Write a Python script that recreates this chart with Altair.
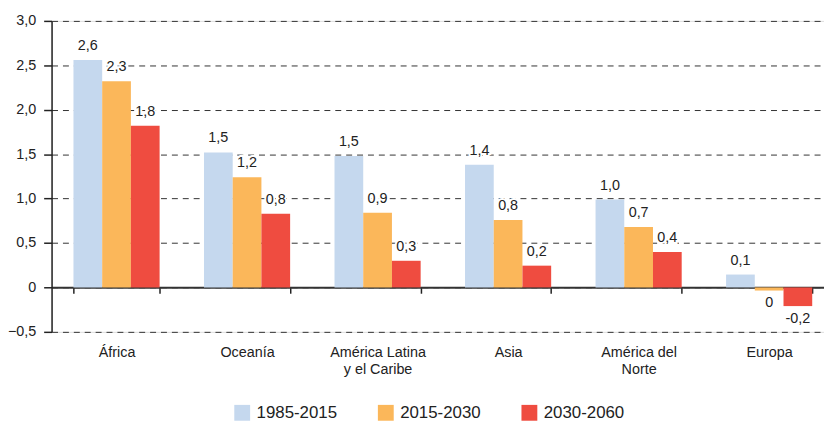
import altair as alt
import pandas as pd

regions = ["África", "Oceanía", "América Latina|y el Caribe", "Asia", "América del|Norte", "Europa"]
periods = ["1985-2015", "2015-2030", "2030-2060"]
colors = ["#c5d8ee", "#fbb75a", "#ef4c40"]

v_1985_2015 = [2.56, 1.52, 1.48, 1.38, 0.99, 0.145]
v_2015_2030 = [2.32, 1.24, 0.84, 0.76, 0.68, -0.035]
v_2030_2060 = [1.82, 0.83, 0.30, 0.245, 0.40, -0.21]

l_1985_2015 = ["2,6", "1,5", "1,5", "1,4", "1,0", "0,1"]
l_2015_2030 = ["2,3", "1,2", "0,9", "0,8", "0,7", "0"]
l_2030_2060 = ["1,8", "0,8", "0,3", "0,2", "0,4", "-0,2"]

y_ticks = [-0.5, 0, 0.5, 1.0, 1.5, 2.0, 2.5, 3.0]

rows = []
for i, r in enumerate(regions):
    for p, vals, labs in zip(periods, [v_1985_2015, v_2015_2030, v_2030_2060],
                             [l_1985_2015, l_2015_2030, l_2030_2060]):
        rows.append({"region": r, "period": p, "value": vals[i], "label": labs[i]})
df = pd.DataFrame(rows)

FONT = "Liberation Sans"
TXT = "#222222"

x = alt.X(
    "region:N", sort=regions, title=None,
    scale=alt.Scale(paddingInner=0.34, paddingOuter=0.129, align=0.65, round=False),
    axis=alt.Axis(
        labelExpr="split(datum.label, '|')", labelAngle=0,
        domainColor="#333333", domainWidth=2,
        tickColor="#222222", tickWidth=1.5, tickSize=6, tickBand="extent",
        offset=-45, labelPadding=53, labelFontSize=14.5, labelColor=TXT,
        labelLineHeight=17, labelFont=FONT, grid=False, zindex=0,
    ),
)
xo = alt.XOffset("period:N", sort=periods,
                 scale=alt.Scale(paddingInner=0, paddingOuter=0, round=False))
y = alt.Y(
    "value:Q", title=None,
    scale=alt.Scale(domain=[-0.5, 3.0], nice=False, zero=False),
    axis=alt.Axis(
        values=y_ticks,
        labelExpr="datum.value == 0 ? '0' : replace(format(datum.value, '.1f'), '.', ',')",
        grid=True, gridDash=[6, 5], gridColor="#333333", gridWidth=1,
        domainColor="#222222", domainWidth=1.5,
        tickSize=8, tickColor="#222222", tickWidth=1.5,
        labelPadding=8, labelFontSize=14.5, labelColor=TXT, labelFont=FONT, zindex=0,
    ),
)
color = alt.Color(
    "period:N",
    scale=alt.Scale(domain=periods, range=colors),
    legend=alt.Legend(
        orient="none", legendX=184, legendY=387, direction="horizontal", title=None,
        symbolType="square", symbolSize=256, symbolStrokeWidth=0,
        labelFontSize=17, labelOffset=6, columnPadding=40, labelColor=TXT, labelFont=FONT,
    ),
)

base = alt.Chart(df)
bars = base.mark_bar().encode(x=x, xOffset=xo, y=y, color=color)


def labels(filter_expr, baseline, dy, halo):
    kw = dict(baseline=baseline, dy=dy, fontSize=14.5, font=FONT)
    if halo:
        kw.update(color="white", stroke="white", strokeWidth=4)
    else:
        kw.update(color=TXT)
    return base.transform_filter(filter_expr).mark_text(**kw).encode(
        x=x, xOffset=xo, y=y, text="label:N"
    )


layers = [
    bars,
    labels("datum.value >= 0", "bottom", -7, True),
    labels("datum.value < 0", "top", 6, True),
    labels("datum.value >= 0", "bottom", -7, False),
    labels("datum.value < 0", "top", 6, False),
]

chart = alt.layer(*layers).properties(
    width=780, height=314,
    autosize=alt.AutoSizeParams(type="none"),
    padding={"left": 44, "top": 11, "right": 0, "bottom": 88},
).configure_view(stroke=None).configure(font=FONT)

chart.save("out.html", embed_options={"renderer": "svg", "actions": False})
